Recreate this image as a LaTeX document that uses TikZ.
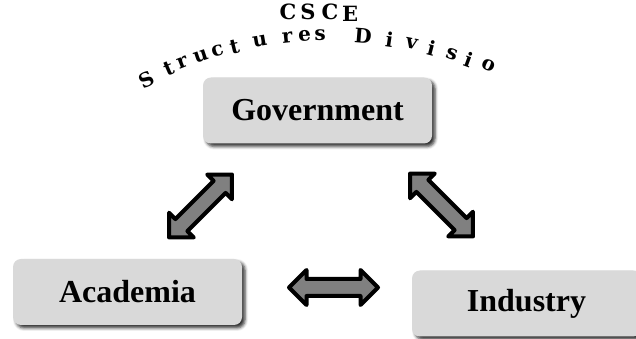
\documentclass[tikz,border=0pt]{standalone}
\usepackage{fontspec}
\setmainfont{Liberation Serif}
\newfontfamily\arcfont{DejaVu Serif}
\usepackage{xcolor}
\usetikzlibrary{shapes.arrows,shadows.blur}

\definecolor{boxgray}{RGB}{217,217,217}
\definecolor{arrowgray}{RGB}{128,128,128}

\begin{document}
\begin{tikzpicture}[x=1pt, y=1pt,
  sector/.style={draw=none, fill=boxgray, rounded corners=8pt, minimum width=229pt, minimum height=66pt,
    font=\fontsize{32}{36}\selectfont\bfseries,
    blur shadow={shadow xshift=3pt, shadow yshift=-3pt, shadow blur radius=3pt, shadow opacity=80}},
  linkarrow/.style={double arrow, draw=black, fill=arrowgray, line width=4pt, line join=round,
    inner sep=6.5pt, minimum height=89pt, double arrow head extend=9pt},
  arcletter/.style={font=\arcfont\fontsize{20}{24}\selectfont\bfseries, inner sep=0pt, anchor=center},
  titleletter/.style={font=\arcfont\fontsize{21}{24}\selectfont\bfseries, inner sep=0pt, anchor=center}]
  \useasboundingbox (0,0) rectangle (636,339);
  % the three sectors
  \node[sector] (gov) at (317.5,228.5) {Government};
  \node[sector] (acad) at (127.5,47) {Academia};
  \node[sector] (ind) at (526.5,35.5) {Industry};
  % links between sectors
  \node[linkarrow, rotate=45] (linkAG) at (200.5,133) {};
  \node[linkarrow, rotate=-45] (linkGI) at (441.5,134) {};
  \node[linkarrow] (linkAI) at (333.5,51.5) {};
  % title above the arc
  \node[titleletter] (csce1) at (288,327) {C};
  \node[titleletter] (csce2) at (308,327) {S};
  \node[titleletter] (csce3) at (330,327) {C};
  \node[titleletter] (csce4) at (350,325) {E};
  % title along the arc
  \coordinate (arcctr) at (330,-99);
  \node[arcletter, rotate=27.1] at ([shift={(117.1:403)}]arcctr) {S};
  \node[arcletter, rotate=23.6] at ([shift={(113.6:403)}]arcctr) {t};
  \node[arcletter, rotate=21.5] at ([shift={(111.5:403)}]arcctr) {r};
  \node[arcletter, rotate=18.7] at ([shift={(108.7:403)}]arcctr) {u};
  \node[arcletter, rotate=16.2] at ([shift={(106.2:403)}]arcctr) {c};
  \node[arcletter, rotate=13.7] at ([shift={(103.7:403)}]arcctr) {t};
  \node[arcletter, rotate=10.0] at ([shift={(100.0:403)}]arcctr) {u};
  \node[arcletter, rotate=6.1] at ([shift={(96.1:403)}]arcctr) {r};
  \node[arcletter, rotate=3.6] at ([shift={(93.6:403)}]arcctr) {e};
  \node[arcletter, rotate=1.4] at ([shift={(91.4:403)}]arcctr) {s};
  \node[arcletter, rotate=-4.7] at ([shift={(85.3:403)}]arcctr) {D};
  \node[arcletter, rotate=-8.5] at ([shift={(81.5:403)}]arcctr) {i};
  \node[arcletter, rotate=-11.7] at ([shift={(78.3:403)}]arcctr) {v};
  \node[arcletter, rotate=-14.6] at ([shift={(75.4:403)}]arcctr) {i};
  \node[arcletter, rotate=-17.6] at ([shift={(72.4:403)}]arcctr) {s};
  \node[arcletter, rotate=-20.1] at ([shift={(69.9:403)}]arcctr) {i};
  \node[arcletter, rotate=-23.1] at ([shift={(66.9:405)}]arcctr) {o};
\end{tikzpicture}
\end{document}
